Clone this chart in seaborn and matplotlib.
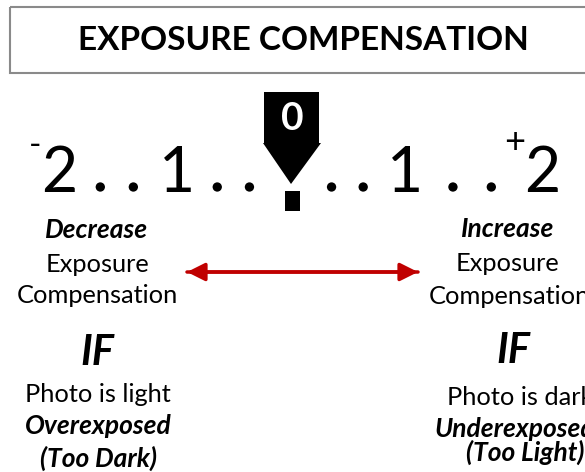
import matplotlib
matplotlib.use("Agg")
import matplotlib.pyplot as plt
from matplotlib.patches import Polygon, Rectangle
import seaborn as sns

# Datos del diagrama
title = "EXPOSURE COMPENSATION"
scale_stops = [-2, -1, 0, 1, 2]
scale_labels = ["2", "1", "0", "1", "2"]
current_value = 0
left_lines = ["Decrease", "Exposure", "Compensation", "IF",
              "Photo is light", "Overexposed", "(Too Dark)"]
right_lines = ["Increase", "Exposure", "Compensation", "IF",
               "Photo is dark", "Underexposed", "(Too Light)"]

# Estilo
sns.set_theme(style="white")
plt.rcParams["font.family"] = ["Lato", "DejaVu Sans"]

fig = plt.figure(figsize=(5.85, 4.72), dpi=100)
ax = fig.add_axes([0, 0, 1, 1])
ax.set_xlim(0, 585)
ax.set_ylim(472, 0)
ax.axis("off")

# Caja del titulo
ax.add_patch(Rectangle((10, 7), 590, 66, fill=False, edgecolor="#8a8a8a", lw=1.5))
ax.text(303, 41, title, ha="center", va="center", fontsize=24, fontweight="bold", color="black")

# Escala
stop_x = [59, 177, 292, 405, 542]
base_y = 192
for s, lab, x in zip(scale_stops, scale_labels, stop_x):
    if s == current_value:
        continue
    ax.text(x, base_y, lab, ha="center", va="baseline", fontsize=45, color="black")

ax.text(35, 146, "-", ha="center", va="center", fontsize=24, color="black")
ax.text(515, 143, "+", ha="center", va="center", fontsize=26, color="black")

# Puntos entre las marcas
dot_x = []
for a, b in zip(stop_x[:-1], stop_x[1:]):
    dot_x += [a + 0.35 * (b - a), a + 0.63 * (b - a)]
sns.scatterplot(x=dot_x, y=[187] * len(dot_x), s=45, color="black", edgecolor="none", ax=ax, legend=False)

# Indicador del valor actual
px = stop_x[scale_stops.index(current_value)]
ax.add_patch(Polygon([(px - 28, 92), (px + 27, 92), (px + 27, 143), (px + 29, 143),
                      (px - 1, 184), (px - 29, 143), (px - 28, 143)],
                     closed=True, facecolor="black", edgecolor="none"))
ax.add_patch(Rectangle((px - 7, 191), 15, 20, facecolor="black", edgecolor="none"))
ax.text(px, 119, scale_labels[scale_stops.index(current_value)], ha="center", va="center",
        fontsize=28, fontweight="bold", color="white")

# Flecha roja
for a, b in [(187, 418), (418, 187)]:
    ax.annotate("", xy=(b, 272), xytext=(a, 272),
                arrowprops=dict(arrowstyle="-|>,head_length=0.9,head_width=0.45", color="#c00000",
                                lw=2.5, shrinkA=0, shrinkB=0))

# Columnas de texto
styles = [("bold", "italic", 19), ("normal", "normal", 18.3), ("normal", "normal", 18.3),
          ("bold", "italic", 30), ("normal", "normal", 18.3), ("bold", "italic", 19),
          ("bold", "italic", 19)]
left_x = [97, 97, 97, 97, 98, 98, 98]
left_y = [238, 272, 303, 365, 402, 434, 467]
right_x = [508, 508, 509, 513, 520, 515, 525]
right_y = [237, 271, 304, 363, 405, 437, 461]

for lines, xs, ys in [(left_lines, left_x, left_y), (right_lines, right_x, right_y)]:
    for txt, x, y, (w, st, fs) in zip(lines, xs, ys, styles):
        ax.text(x, y, txt, ha="center", va="baseline", fontsize=fs,
                fontweight=w, fontstyle=st, color="black")

fig.savefig("out.png", dpi=100)
